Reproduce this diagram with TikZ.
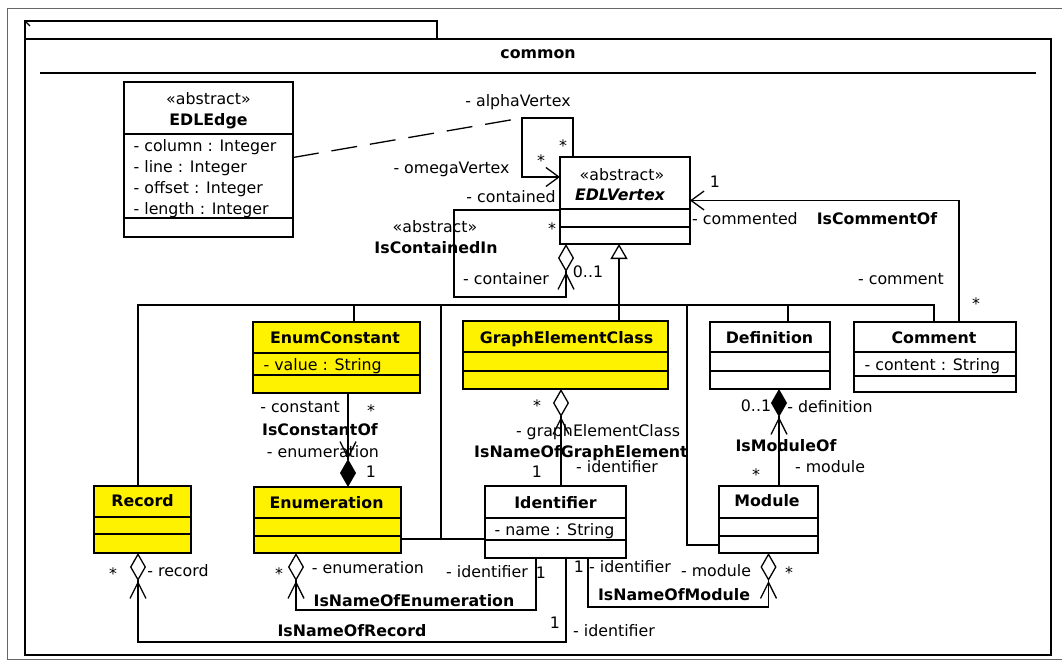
\documentclass[tikz,border=0pt]{standalone}
\usepackage{fontspec}
\setmainfont{DejaVu Sans}
\usetikzlibrary{arrows.meta}

\begin{document}
\begin{tikzpicture}[x=1pt, y=-1pt, line width=1.3pt,
    txt/.style={font=\fontsize{15.8}{19}\selectfont, inner sep=0pt,
                text height=11.5pt, text depth=3.5pt},
    bold/.style={txt, font=\fontsize{15.8}{19}\selectfont\bfseries},
    attr/.style={txt, anchor=west},
    cls/.style={draw, rectangle, anchor=north west, inner sep=0pt, outer sep=0pt},
    hl/.style={cls, fill=yellow},
    nav/.style={-{Straight Barb[length=13pt,width=19pt]}},
    agg/.style={-{Straight Barb[length=16pt,width=16pt,sep=0pt]Diamond[open,length=28pt,width=16pt]}},
    comp/.style={-{Straight Barb[length=16pt,width=16pt,sep=0pt]Diamond[length=28pt,width=16pt]}},
    gen/.style={line width=2.6pt, -{Triangle[open,length=15pt,width=17pt,line width=1.3pt]}},
    assocclass/.style={dash pattern=on 26pt off 13pt}]
\useasboundingbox (0,0) rectangle (1062,661);

\draw[black!60, line width=1pt] (7,9) rectangle (1070,659);
\node[cls, minimum width=412, minimum height=18] (tab) at (25,21) {};
\node[cls, minimum width=1026, minimum height=616] (pkg) at (25,39) {};
\draw (25,21) -- (30,26);
\draw (40,73) -- (1036,73);
\node[bold] (pkgname) at (538,55) {common};

\node[cls, minimum width=169, minimum height=155] (edge) at (124,82) {};
\draw (124,134) -- (293,134);
\draw (124,218) -- (293,218);
\node[txt] (edge-st) at (208.5,100) {«abstract»};
\node[bold] (edge-name) at (208.5,121) {EDLEdge};
\node[attr] (edge-a1) at (133,147) {- column : Integer};
\node[attr] (edge-a2) at (133,168) {- line : Integer};
\node[attr] (edge-a3) at (133,189) {- offset : Integer};
\node[attr] (edge-a4) at (133,210) {- length : Integer};

\node[cls, minimum width=130, minimum height=87] (vertex) at (560,157) {};
\draw (560,209) -- (690,209);
\draw (560,227) -- (690,227);
\node[txt] (vertex-st) at (622,176) {«abstract»};
\node[bold, font=\fontsize{15.8}{19}\selectfont\bfseries\itshape] (vertex-name) at (620,196) {EDLVertex};

\node[hl, minimum width=167, minimum height=71] (enumconst) at (253,322) {};
\draw (253,353) -- (420,353);
\draw (253,375) -- (420,375);
\node[bold] (enumconst-name) at (335,339) {EnumConstant};
\node[attr] (enumconst-a1) at (263,366) {- value : String};

\node[hl, minimum width=205, minimum height=68] (gec) at (463,321) {};
\draw (463,352) -- (668,352);
\draw (463,371) -- (668,371);
\node[bold] (gec-name) at (566.5,339) {GraphElementClass};

\node[cls, minimum width=120, minimum height=67] (definition) at (710,322) {};
\draw (710,352) -- (830,352);
\draw (710,371) -- (830,371);
\node[bold] (definition-name) at (769.5,339) {Definition};

\node[cls, minimum width=162, minimum height=70] (comment) at (854,322) {};
\draw (854,352) -- (1016,352);
\draw (854,376) -- (1016,376);
\node[bold] (comment-name) at (934,339) {Comment};
\node[attr] (comment-a1) at (864,366) {- content : String};

\node[hl, minimum width=97, minimum height=67] (record) at (94,486) {};
\draw (94,517) -- (191,517);
\draw (94,534) -- (191,534);
\node[bold] (record-name) at (142.5,502) {Record};

\node[hl, minimum width=147, minimum height=66] (enumeration) at (254,487) {};
\draw (254,518) -- (401,518);
\draw (254,536) -- (401,536);
\node[bold] (enumeration-name) at (326.5,504) {Enumeration};

\node[cls, minimum width=141, minimum height=72] (identifier) at (485,486) {};
\draw (485,518) -- (626,518);
\draw (485,540) -- (626,540);
\node[bold] (identifier-name) at (555.5,504) {Identifier};
\node[attr] (identifier-a1) at (494,531) {- name : String};

\node[cls, minimum width=99, minimum height=67] (module) at (719,486) {};
\draw (719,518) -- (818,518);
\draw (719,536) -- (818,536);
\node[bold] (module-name) at (767,502) {Module};

\coordinate (bus) at (619,305);
\draw[gen] (bus) -- ([xshift=-6]vertex.south);
\draw ([xshift=-4.5]record.north) |- (bus) -| ([xshift=-1]comment.north);
\draw ([xshift=17.5]enumconst.north) -- ([xshift=17.5]enumconst.north |- bus);
\draw (bus) -- (bus |- gec.north);
\draw ([xshift=18]definition.north) -- ([xshift=18]definition.north |- bus);
\draw ([yshift=-19]enumeration.east) -- ([yshift=-17]identifier.west);
\draw ([xshift=40,yshift=-19]enumeration.east) -- ([xshift=40]enumeration.east |- bus);
\draw ([yshift=-25.5]module.west) -| ([xshift=68]bus);

\draw[nav] ([xshift=13]vertex.north west) -- ++(0,-39) -- ++(-51,0) coordinate (loop)
  -- ++(0,59) -- ([yshift=-20]vertex.north west);
\draw[assocclass] ([yshift=2]edge.east) -- (loop);
\draw[agg] ([yshift=-53]vertex.north west) -- ++(-106,0) -- ++(0,87) -| ([xshift=-59]vertex.south);
\draw[nav] ([xshift=24]comment.north) |- (vertex.east);
\draw[comp] ([xshift=11.5]enumconst.south) -- ([xshift=20.5]enumeration.north);
\draw[agg] ([xshift=5.5]identifier.north) -- ([xshift=-4.5]gec.south);
\draw[comp] ([xshift=10.5]module.north) -- ([xshift=9]definition.south);
\draw[agg] ([xshift=10.5]identifier.south) -- ++(0,84) -| ([xshift=-4.5]record.south);
\draw[agg] ([xshift=-19.5]identifier.south) -- ++(0,52) -| ([xshift=-31.5]enumeration.south);
\draw[agg] ([xshift=32.5]identifier.south) -- ++(0,49) -| (module.south);

\node[txt] (alpha) at (518,102) {- alphaVertex};
\node[txt] (alpha-m) at (563,147) {*};
\node[txt] (omega-m) at (541,162) {*};
\node[txt] (omega) at (451.5,169) {- omegaVertex};
\node[txt] (contained) at (511,198) {- contained};
\node[txt] (contained-m) at (552,230) {*};
\node[txt] (cont-st) at (435,228) {«abstract»};
\node[bold] (cont-name) at (436,249) {IsContainedIn};
\node[txt] (container) at (506,280) {- container};
\node[txt] (container-m) at (588,273) {0..1};

\node[txt] (commented-m) at (715,183) {1};
\node[txt] (commented) at (745,220) {- commented};
\node[bold] (commentof) at (877,220) {IsCommentOf};
\node[txt] (commentrole) at (901,280) {- comment};
\node[txt] (comment-m) at (976,305) {*};

\node[txt] (constant) at (300,408) {- constant};
\node[txt] (constant-m) at (371,412) {*};
\node[bold] (constantof) at (320,431) {IsConstantOf};
\node[txt] (constenum) at (323,453) {- enumeration};
\node[txt] (constenum-m) at (371,473) {1};

\node[txt] (gecrole-m) at (537,407) {*};
\node[txt] (gecrole) at (598,432) {- graphElementClass};
\node[bold] (nameofge) at (581,453) {IsNameOfGraphElement};
\node[txt] (geident) at (617,468) {- identifier};
\node[txt] (geident-m) at (537,473) {1};

\node[txt] (defrole-m) at (756,407) {0..1};
\node[txt] (defrole) at (830,408) {- definition};
\node[bold] (moduleof) at (786,447) {IsModuleOf};
\node[txt] (modrole-m) at (756,476) {*};
\node[txt] (modrole) at (830,468) {- module};

\node[txt] (recrole-m) at (113,575) {*};
\node[txt] (recrole) at (178,572) {- record};
\node[txt] (enumrole-m) at (279,575) {*};
\node[txt] (enumrole) at (368,569) {- enumeration};
\node[txt] (enumident) at (487,573) {- identifier};
\node[txt] (enumident-m) at (541,574) {1};
\node[bold] (nameofenum) at (414,602) {IsNameOfEnumeration};
\node[bold] (nameofrec) at (352,632) {IsNameOfRecord};
\node[txt] (recident-m) at (555,624) {1};
\node[txt] (recident) at (614,632) {- identifier};

\node[txt] (modident-m) at (579,568) {1};
\node[txt] (modident) at (630,568) {- identifier};
\node[txt] (modrole2) at (716,572) {- module};
\node[txt] (modrole2-m) at (789,574) {*};
\node[bold] (nameofmod) at (674,596) {IsNameOfModule};
\end{tikzpicture}
\end{document}
